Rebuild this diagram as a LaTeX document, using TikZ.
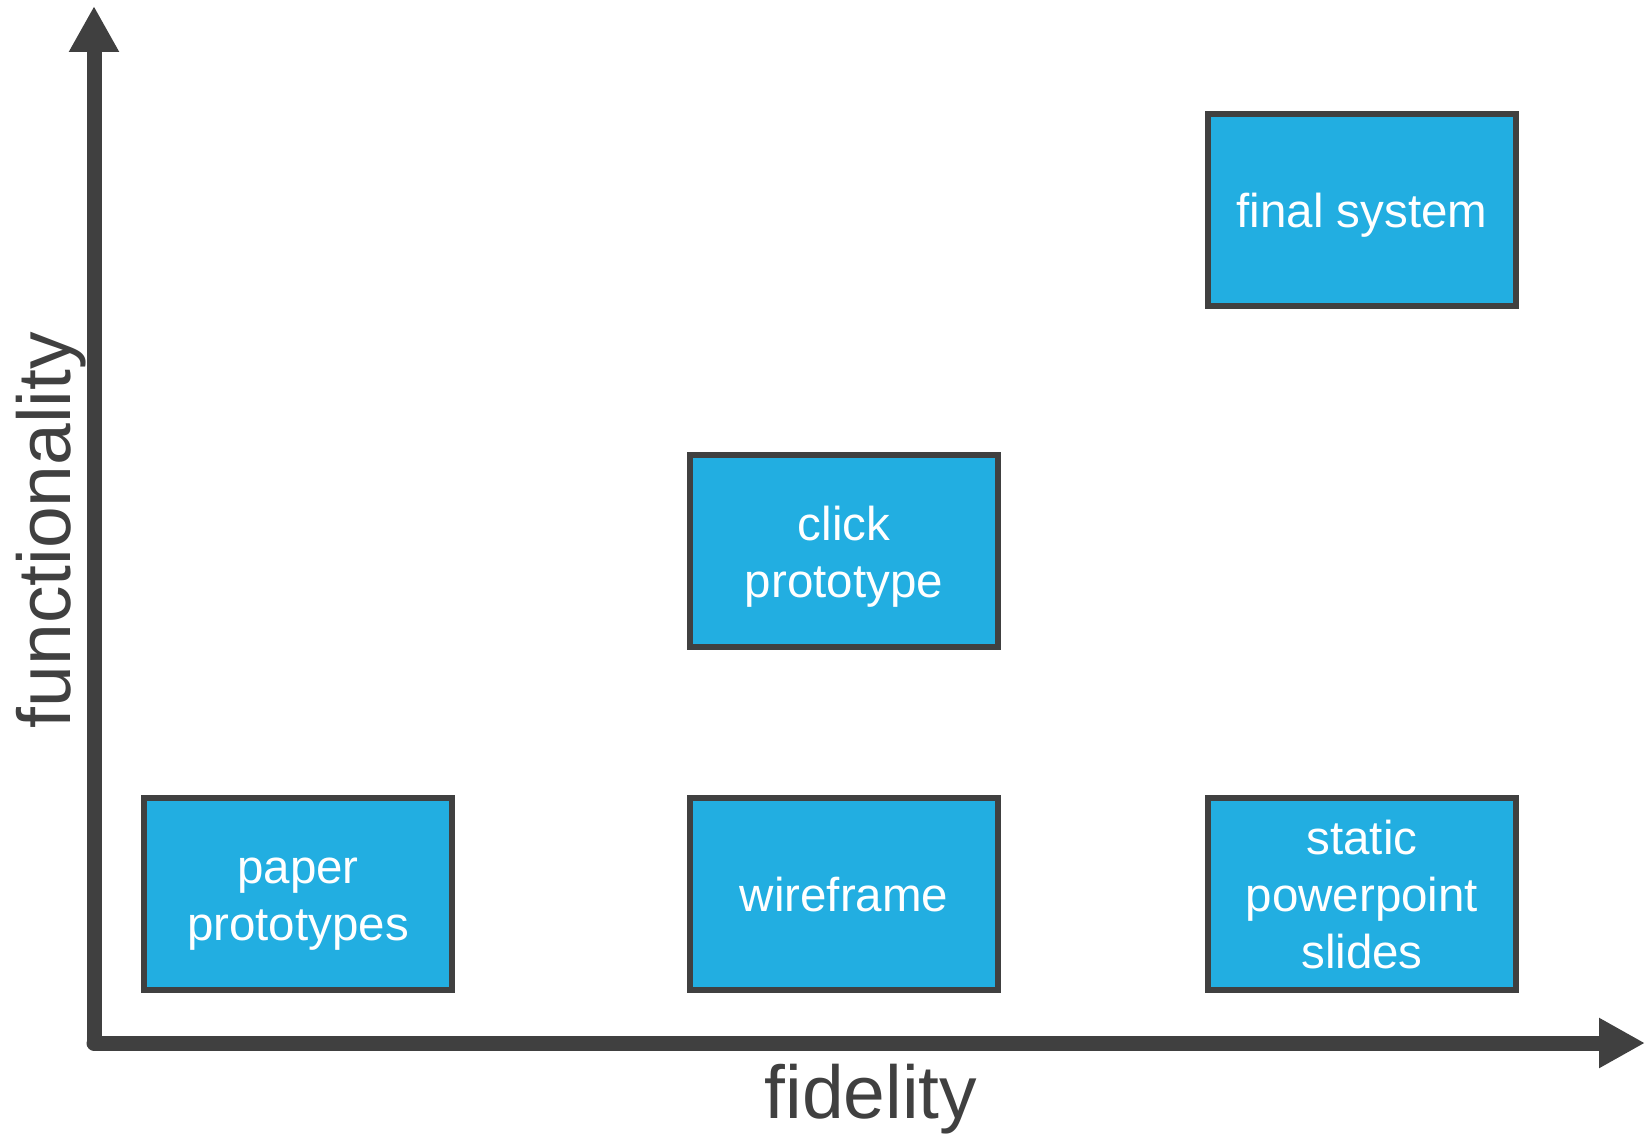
\documentclass[tikz,border=0pt]{standalone}
\usepackage{fontspec}
\setmainfont{Liberation Sans}
\usetikzlibrary{arrows.meta}
\definecolor{axisgray}{HTML}{404040}
\definecolor{boxblue}{RGB}{34,174,225}
% fixed line box so every text line sits at the same height
\newcommand\linestrut{\rule[-10pt]{0pt}{55pt}}

\begin{document}
\begin{tikzpicture}[x=1pt,y=-1pt,
  stage/.style={draw=axisgray, line width=6pt, fill=boxblue, text=white,
    minimum width=308pt, minimum height=192pt, inner sep=0pt, align=center,
    font=\fontsize{47.5}{57}\selectfont},
  axis/.style={draw=axisgray, line width=15pt, line cap=round,
    -{Triangle[length=46pt,width=47pt]}},
  axislabel/.style={text=axisgray, inner sep=0pt, anchor=base,
    font=\fontsize{75}{90}\selectfont}]
\useasboundingbox (0,0) rectangle (1645,1134);

% axes
\coordinate (origin) at (94,1043);
\coordinate (ytop) at (94,6);
\coordinate (xend) at (1645,1043);
\draw[axis] (origin) -- (ytop);
\draw[axis] (origin) -- (xend);

% axis labels
\node[axislabel, rotate=90] (ylab) at (70,530) {functionality};
\node[axislabel] (xlab) at (871,1118) {fidelity};

% prototype kinds
\node[stage] (paper) at (298,894) {\linestrut paper\\\linestrut prototypes};
\node[stage] (wire) at (844,894) {\linestrut wireframe};
\node[stage] (slides) at (1362,894) {\linestrut static\\\linestrut powerpoint\\\linestrut slides};
\node[stage] (click) at (844,551) {\linestrut click\\\linestrut prototype};
\node[stage] (final) at (1362,210) {\linestrut final system};
\end{tikzpicture}
\end{document}
